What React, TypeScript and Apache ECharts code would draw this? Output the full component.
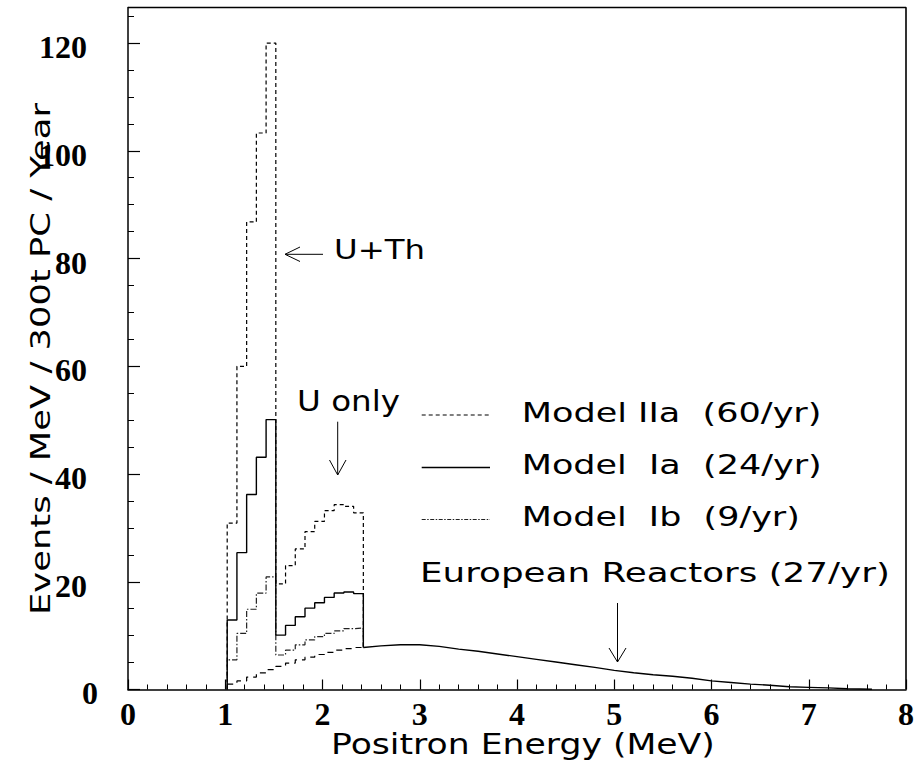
import React, { useEffect, useRef } from 'react';
import * as echarts from 'echarts';

// Histogram bin edges (MeV) for the geo-neutrino models
const binEdges = [1.02, 1.12, 1.22, 1.32, 1.42, 1.52, 1.62, 1.72, 1.82, 1.92, 2.02, 2.12, 2.22, 2.32, 2.42];
// Model IIa (dashed)
const modelIIa = [30.9, 60.0, 86.8, 103.3, 120.0, 19.6, 23.0, 26.1, 29.3, 31.2, 33.2, 34.3, 34.0, 32.8];
// Model Ia (solid)
const modelIa = [12.9, 25.4, 36.2, 43.1, 50.1, 10.1, 11.9, 13.5, 15.1, 16.1, 17.1, 17.9, 18.1, 17.8];
// Model Ib (dash-dot)
const modelIb = [5.5, 10.4, 14.9, 17.9, 20.9, 6.4, 7.3, 8.3, 9.2, 9.8, 10.4, 10.9, 11.3, 11.4];
// European reactors below 2.42 MeV (dashed)
const reactorLow = [1.0, 1.6, 2.3, 3.1, 3.7, 4.3, 4.9, 5.5, 6.0, 6.5, 6.9, 7.3, 7.6, 7.8];
// European reactors above 2.42 MeV
const reactorX = [2.42, 2.6, 2.8, 3.0, 3.2, 3.4, 3.6, 3.8, 4.0, 4.2, 4.4, 4.6, 4.8, 5.0, 5.2, 5.4, 5.6, 5.8, 6.0, 6.2, 6.4, 6.6, 6.8, 7.0, 7.2, 7.4, 7.65];
const reactorY = [7.8, 8.1, 8.3, 8.3, 8.0, 7.5, 7.1, 6.6, 6.1, 5.6, 5.1, 4.6, 4.1, 3.55, 3.1, 2.75, 2.45, 2.1, 1.6, 1.3, 1.0, 0.8, 0.5, 0.4, 0.3, 0.15, 0.05];

const xMin = 0;
const xMax = 8;
const xInterval = 1;
const yMax = 126.6;
const yInterval = 20;
const yMinorInterval = 5;

const legendRows = ['Model IIa  (60/yr)', 'Model  Ia  (24/yr)', 'Model  Ib  (9/yr)'];
const reactorLabel = 'European Reactors (27/yr)';
const uthLabel = 'U+Th';
const uonlyLabel = 'U only';
const xTitle = 'Positron Energy (MeV)';
const yTitle = 'Events / MeV / 300t PC / Year';

const SANS = '"DejaVu Sans"';
const SERIF = '"Liberation Serif", "Times New Roman", serif';

const W = 917;
const H = 765;
const GRID_LEFT = 128;
const GRID_TOP = 7.5;
const GRID_RIGHT_X = 910.5;
const GRID_BOTTOM_Y = 689.5;

function histPoints(vals: number[], endVal: number | null, fromZero: boolean) {
  const pts: number[][] = [];
  if (fromZero) pts.push([binEdges[0], 0]);
  vals.forEach((v, i) => {
    pts.push([binEdges[i], v]);
    pts.push([binEdges[i + 1], v]);
  });
  if (endVal !== null) pts.push([binEdges[binEdges.length - 1], endVal]);
  return pts;
}

function measure(text: string, size: number) {
  const ctx = document.createElement('canvas').getContext('2d')!;
  ctx.font = `normal ${size}px ${SANS}`;
  return ctx.measureText(text).width;
}

function fitText(text: string, left: number, right: number, cy: number, size: number) {
  const sx = (right - left) / measure(text, size);
  return {
    type: 'text',
    x: left,
    y: cy,
    scaleX: sx,
    silent: true,
    style: { text, fontFamily: SANS, fontSize: size, fill: '#000', align: 'left', verticalAlign: 'middle' },
  };
}

export default function App() {
  const ref = useRef<HTMLDivElement>(null);
  useEffect(() => {
    document.body.style.margin = '0';
    const chart = echarts.init(ref.current!, null, { renderer: 'svg' });
    const reactorHigh = reactorX.map((x, i) => [x, reactorY[i]]);
    const endVal = reactorY[0];
    const base = { type: 'line', showSymbol: false, symbol: 'none', silent: true, clip: true, xAxisIndex: 0, yAxisIndex: 0 };
    const yTitleSize = 26;
    const ySx = 512 / measure(yTitle, yTitleSize);
    const frameAxisLine = { show: true, onZero: false, lineStyle: { color: '#000', width: 1.5 } };
    const labelFont = { fontFamily: SERIF, fontWeight: 'bold', fontSize: 32, color: '#000' };

    const option: any = {
      animation: false,
      grid: { left: GRID_LEFT, top: GRID_TOP, right: W - GRID_RIGHT_X, bottom: H - GRID_BOTTOM_Y, show: false },
      xAxis: {
        type: 'value', min: xMin, max: xMax, interval: xInterval,
        axisLine: frameAxisLine,
        axisTick: { show: true, inside: true, length: 10, lineStyle: { color: '#000', width: 1.2 } },
        minorTick: { show: true, splitNumber: 5, length: 5, lineStyle: { color: '#000', width: 1 } },
        splitLine: { show: false },
        minorSplitLine: { show: false },
        axisLabel: { margin: 8, ...labelFont },
      },
      yAxis: [
        {
          type: 'value', min: 0, max: yMax, interval: yInterval,
          axisLine: frameAxisLine,
          axisTick: { show: true, inside: true, length: 12, lineStyle: { color: '#000', width: 1.2 } },
          splitLine: { show: false },
          axisLabel: {
            showMaxLabel: false,
            margin: 30,
            ...labelFont,
            formatter: (v: number) => (v === 0 ? '{z|0}' : `{n|${v}}`),
            rich: {
              n: { ...labelFont, padding: [8, 11, 0, 0] },
              z: { ...labelFont, padding: [7, 0, 0, 0] },
            },
          },
        },
        {
          type: 'value', min: 0, max: yMax, interval: yMinorInterval, position: 'left',
          axisLine: { show: false },
          axisTick: { show: true, inside: true, length: 6, lineStyle: { color: '#000', width: 1 } },
          axisLabel: { show: false },
          splitLine: { show: false },
        },
      ],
      series: [
        // frame (top and right edges of the plot box)
        {
          ...base, name: 'frame', clip: false, z: 10,
          data: [[xMin, yMax], [xMax, yMax], [xMax, 0]],
          lineStyle: { color: '#000', width: 1.6 },
        },
        { ...base, name: 'European Reactors', data: reactorHigh, lineStyle: { color: '#000', width: 1.4 } },
        { ...base, name: 'European Reactors low', data: histPoints(reactorLow, endVal, false), lineStyle: { color: '#000', width: 1.2, type: [6, 5] } },
        { ...base, name: 'Model Ib', data: histPoints(modelIb, endVal, true), lineStyle: { color: '#222', width: 1.2, type: [6, 2, 1.5, 2] } },
        { ...base, name: 'Model Ia', data: histPoints(modelIa, endVal, true), lineStyle: { color: '#000', width: 1.4 } },
        { ...base, name: 'Model IIa', data: histPoints(modelIIa, endVal, true), lineStyle: { color: '#000', width: 1.2, type: [4, 3] } },
      ],
      graphic: [
        // legend samples
        { type: 'line', silent: true, shape: { x1: 421.7, y1: 415, x2: 490, y2: 415 }, style: { stroke: '#000', lineWidth: 1.1, lineDash: [4, 3] } },
        { type: 'line', silent: true, shape: { x1: 421.7, y1: 467.5, x2: 490, y2: 467.5 }, style: { stroke: '#000', lineWidth: 1.3 } },
        { type: 'line', silent: true, shape: { x1: 421.7, y1: 519.5, x2: 490, y2: 519.5 }, style: { stroke: '#222', lineWidth: 1.1, lineDash: [4, 1.5, 1.5, 1.5] } },
        fitText(legendRows[0], 521.7, 821.7, 412.5, 27),
        fitText(legendRows[1], 521.7, 821.7, 464.5, 27),
        fitText(legendRows[2], 521.7, 800, 516.5, 27),
        fitText(reactorLabel, 420, 890, 573, 27),
        fitText(uthLabel, 334, 425, 249, 27),
        fitText(uonlyLabel, 297, 400, 401, 28),
        fitText(xTitle, 331, 715, 744, 28),
        {
          type: 'text', x: 41, y: 359, rotation: Math.PI / 2, scaleX: ySx, silent: true,
          style: { text: yTitle, fontFamily: SANS, fontSize: yTitleSize, fill: '#000', align: 'center', verticalAlign: 'middle' },
        },
        // arrows
        { type: 'line', silent: true, shape: { x1: 285, y1: 254.3, x2: 323, y2: 254.3 }, style: { stroke: '#000', lineWidth: 1 } },
        { type: 'polyline', silent: true, shape: { points: [[300, 247], [285, 254.3], [300, 261.5]] }, style: { stroke: '#000', lineWidth: 1, fill: null } },
        { type: 'line', silent: true, shape: { x1: 337.7, y1: 421.7, x2: 337.7, y2: 475 }, style: { stroke: '#000', lineWidth: 1 } },
        { type: 'polyline', silent: true, shape: { points: [[329.5, 460], [337.7, 475], [346, 460]] }, style: { stroke: '#000', lineWidth: 1, fill: null } },
        { type: 'line', silent: true, shape: { x1: 617.5, y1: 603, x2: 617.5, y2: 662 }, style: { stroke: '#000', lineWidth: 1 } },
        { type: 'polyline', silent: true, shape: { points: [[609, 648], [617.5, 662], [626, 648]] }, style: { stroke: '#000', lineWidth: 1, fill: null } },
      ],
    };
    chart.setOption(option);
    return () => chart.dispose();
  }, []);
  return <div ref={ref} style={{ position: 'absolute', left: 0, top: 0, width: W, height: H, background: '#fff' }} />;
}
